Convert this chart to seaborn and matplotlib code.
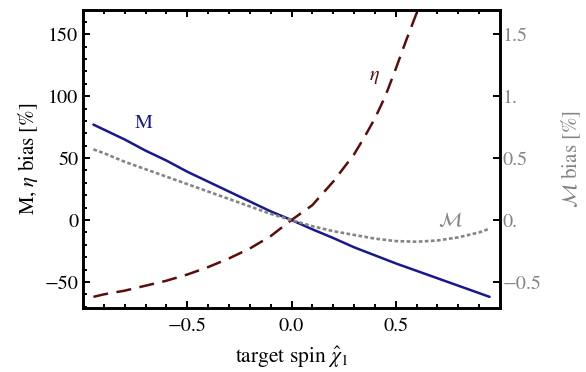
import numpy as np
import pandas as pd
import matplotlib
matplotlib.use("Agg")
import matplotlib.pyplot as plt
import seaborn as sns
from matplotlib.ticker import MultipleLocator

# values
spin = [-0.95, -0.9, -0.8, -0.7, -0.6, -0.5, -0.4, -0.3, -0.2, -0.1, 0.0,
        0.1, 0.2, 0.3, 0.4, 0.5, 0.6, 0.7, 0.8, 0.9, 0.95]
mass_bias = [77, 73, 65, 56, 48, 39, 31, 23, 15, 7, 0,
             -7.5, -14.5, -22, -28.5, -35, -41, -47, -53, -59, -62]
chirp_bias = [0.57, 0.54, 0.47, 0.41, 0.35, 0.29, 0.23, 0.17, 0.11, 0.05, 0.0,
              -0.05, -0.09, -0.12, -0.15, -0.17, -0.175, -0.165, -0.14, -0.10, -0.07]

spin_eta = [-0.95, -0.9, -0.8, -0.7, -0.6, -0.5, -0.4, -0.3, -0.2, -0.1, 0.0,
            0.1, 0.2, 0.3, 0.35, 0.4, 0.45, 0.5, 0.55, 0.6, 0.65]
eta_bias = [-62, -60, -57, -53, -49, -44, -38, -31, -23, -13, 0,
            12, 31, 53, 67, 82, 100, 122, 145, 167, 192]

left_ticks = [-50, 0, 50, 100, 150]
left_labels = ["\u221250", "0", "50", "100", "150"]
right_ticks = [-0.5, 0.0, 0.5, 1.0, 1.5]
right_labels = ["\u22120.5", "0.", "0.5", "1.", "1.5"]
x_ticks = [-0.5, 0.0, 0.5]
x_labels = ["\u22120.5", "0.0", "0.5"]

df_main = pd.DataFrame({"spin": spin, "M": mass_bias, "Mc": chirp_bias})
df_eta = pd.DataFrame({"spin": spin_eta, "eta": eta_bias})

sns.set_style("ticks", {"axes.edgecolor": "black", "xtick.color": "black",
                        "ytick.color": "black", "text.color": "black",
                        "axes.labelcolor": "black"})
plt.rcParams["font.family"] = ["STIXGeneral", "DejaVu Serif"]
plt.rcParams["mathtext.fontset"] = "stix"

blue = "#17198c"
red = "#5e0b0b"
gray = "#858585"
fs = 14.5

fig = plt.figure(figsize=(5.86, 3.72), dpi=100)
ax = fig.add_axes([83 / 586, 64 / 372, 417 / 586, 298 / 372])
ax2 = ax.twinx()

sns.lineplot(data=df_main, x="spin", y="M", ax=ax, color=blue, linewidth=1.8)
sns.lineplot(data=df_eta, x="spin", y="eta", ax=ax, color=red, linewidth=1.8,
             linestyle=(0, (6.0, 3.4)))
sns.lineplot(data=df_main, x="spin", y="Mc", ax=ax2, color=gray, linewidth=1.9,
             linestyle=(0, (1.4, 0.9)))

ax.set_xlim(-1.0, 1.0)
ax.set_ylim(-71, 169.5)
ax2.set_ylim(-0.71, 1.695)

ax.set_xticks(x_ticks, x_labels)
ax.set_yticks(left_ticks, left_labels)
ax2.set_yticks(right_ticks, right_labels)
ax.xaxis.set_minor_locator(MultipleLocator(0.1))
ax.yaxis.set_minor_locator(MultipleLocator(10))

ax.tick_params(axis="both", which="both", direction="in", labelsize=fs,
               top=True, right=False, width=1.4, colors="black")
ax.tick_params(which="major", length=5)
ax.tick_params(which="minor", length=3)
ax.tick_params(axis="x", pad=7)
ax2.tick_params(axis="y", direction="in", length=5, width=1.4, labelsize=fs,
                colors="black", labelcolor=gray, pad=2)

for sp in list(ax.spines.values()) + list(ax2.spines.values()):
    sp.set_linewidth(1.9)
    sp.set_color("black")

ax.set_xlabel(r"target spin $\hat{\chi}_1$", fontsize=15.5, labelpad=7)
ax.set_ylabel(r"M, $\eta$ bias [%]", fontsize=fs + 0.5, labelpad=3)
ax2.set_ylabel(r"$\mathcal{M}$ bias [%]", fontsize=fs + 0.5, color=gray, labelpad=13)

ax.text(-0.71, 78, "M", color=blue, fontsize=fs, ha="center", va="center")
ax.text(0.40, 115, r"$\eta$", color=red, fontsize=fs, ha="center", va="center")
ax2.text(0.76, 0.0, r"$\mathcal{M}$", color=gray, fontsize=fs, ha="center", va="center")

fig.savefig("out.png", dpi=100)
